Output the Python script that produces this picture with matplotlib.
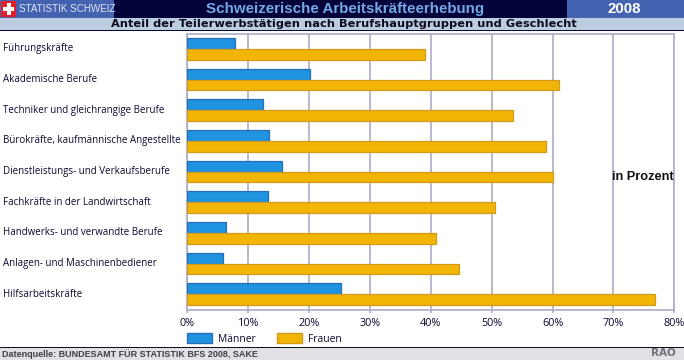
import matplotlib
matplotlib.use("Agg")
import matplotlib.pyplot as plt
from matplotlib.patches import Rectangle, Patch
from matplotlib.transforms import ScaledTranslation
import numpy as np

categories = ["Führungskräfte", "Akademische Berufe", "Techniker und gleichrangige Berufe",
              "Bürokräfte, kaufmännische Angestellte", "Dienstleistungs- und Verkaufsberufe",
              "Fachkräfte in der Landwirtschaft", "Handwerks- und verwandte Berufe",
              "Anlagen- und Maschinenbediener", "Hilfsarbeitskräfte"]
maenner = [7.8, 20.1, 12.4, 13.4, 15.6, 13.2, 6.3, 5.9, 25.2]
frauen = [39.0, 61.1, 53.5, 59.0, 60.1, 50.6, 40.9, 44.7, 76.9]
xticks = [0, 10, 20, 30, 40, 50, 60, 70, 80]
xlabels = ["0%", "10%", "20%", "30%", "40%", "50%", "60%", "70%", "80%"]

W, H = 684, 360
fig = plt.figure(figsize=(W / 100, H / 100), dpi=100, facecolor="white")

bg = fig.add_axes([0, 0, 1, 1], zorder=0)
bg.set_xlim(0, W); bg.set_ylim(H, 0); bg.axis("off")
bg.add_patch(Rectangle((0, 0), W, 18, fc="#03033a", ec="none"))
bg.add_patch(Rectangle((0, 0), 114, 18, fc="#4362b0", ec="none"))
bg.add_patch(Rectangle((567, 0), 117, 18, fc="#4362b0", ec="none"))
bg.add_patch(Rectangle((1, 1), 15, 15.5, fc="#e2202c", ec="none"))
bg.add_patch(Rectangle((6.6, 3), 4, 11.5, fc="white", ec="none"))
bg.add_patch(Rectangle((2.9, 6.8), 11.4, 4, fc="white", ec="none"))
bg.add_patch(Rectangle((0, 18), W, 12, fc="#bccde0", ec="none"))
bg.add_patch(Rectangle((0, 30), W, 1.2, fc="#03033a", ec="none"))
bg.add_patch(Rectangle((0, 347), W, 13, fc="#e0e0e6", ec="none"))
bg.add_patch(Rectangle((0, 347), W, 1.2, fc="#111111", ec="none"))
bg.text(19, 9.3, "STATISTIK SCHWEIZ", color="#dfe6f5", fontsize=7.1, family="Liberation Sans", va="center", ha="left")
bg.text(345, 9, "Schweizerische Arbeitskräfteerhebung", color="#73a9e3", fontsize=10.9, family="Liberation Sans", weight="bold", va="center", ha="center")
bg.text(624.5, 9, "2008", color="white", fontsize=10.8, family="Liberation Sans", weight="bold", va="center", ha="center")
bg.text(343.5, 24.3, "Anteil der Teilerwerbstätigen nach Berufshauptgruppen und Geschlecht", color="#0a0a20", fontsize=8.2, family="DejaVu Sans", weight="bold", va="center", ha="center")
bg.text(2, 353.8, "Datenquelle: BUNDESAMT FÜR STATISTIK BFS 2008, SAKE", color="#404048", fontsize=6.5, family="Liberation Sans", weight="bold", va="center", ha="left")
bg.text(676, 353.5, "RAO", color="#70707a", fontsize=7.5, family="DejaVu Sans", weight="bold", va="center", ha="right")

L, R, T, B = 187.3, 674.3, 33.6, 309.5
ax = fig.add_axes([L / W, 1 - B / H, (R - L) / W, (B - T) / H], zorder=1)
ax.patch.set_alpha(0)

y = np.arange(len(categories))
h = 0.355
ax.barh(y - h / 2, maenner, h, color="#1f93e0", edgecolor="#2a6cb8", linewidth=0.9, zorder=3, label="Männer")
ax.barh(y + h / 2, frauen, h, color="#f3b505", edgecolor="#d09a1c", linewidth=0.9, zorder=3, label="Frauen")

ax.set_xlim(0, 80)
ax.set_ylim(len(categories) - 0.5, -0.5)
ax.set_xticks(xticks)
ax.set_xticklabels(xlabels, fontsize=7.8, family="Open Sans", color="#0a0a30")
ax.set_yticks(y)
ax.set_yticklabels(categories, fontsize=7.05, family="Open Sans", color="#0a0a30", ha="left")
ax.tick_params(axis="y", length=0, pad=(L - 3) * 0.72)
ax.tick_params(axis="x", length=2, width=1.2, color="#aeacc6", pad=4)
shift = ScaledTranslation(0, 1.5 / 100, fig.dpi_scale_trans)
for lab in ax.get_yticklabels():
    lab.set_transform(lab.get_transform() + shift)
ax.grid(axis="x", color="#aeacc6", linewidth=1.2, zorder=1)
ax.set_axisbelow(True)
for s in ax.spines.values():
    s.set_color("#aeacc6")
    s.set_linewidth(1.2)

fig.text(674 / W, 1 - 177 / H, "in Prozent", color="#101018", fontsize=9.2, family="Liberation Sans", weight="bold", va="center", ha="right", zorder=5)

handles = [Patch(fc="#1f93e0", ec="#2a6cb8", label="Männer"), Patch(fc="#f3b505", ec="#d09a1c", label="Frauen")]
leg = fig.legend(handles=handles, ncol=2, loc="lower left", bbox_to_anchor=(187 / W, 1 - 344.5 / H),
                 frameon=False, borderpad=0, borderaxespad=0, handlelength=2.45, handleheight=1.15,
                 handletextpad=0.6, columnspacing=2.0, prop={"family": "Open Sans", "size": 7.4})
for t in leg.get_texts():
    t.set_color("#0a0a30")

fig.savefig("out.png", dpi=100, facecolor="white")
